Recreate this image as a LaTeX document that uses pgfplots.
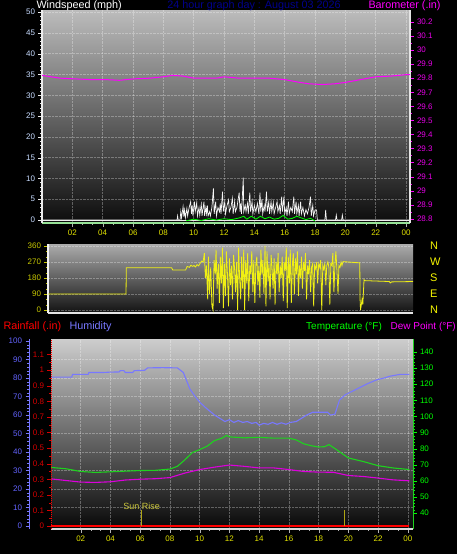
\documentclass[border=0pt]{standalone}
\usepackage{pgfplots}
\pgfplotsset{compat=1.18}
\usepackage{fontspec}
\setmainfont{Liberation Sans}
\definecolor{xyel}{RGB}{225,225,0}
\definecolor{wsblue}{RGB}{200,220,255}
\definecolor{baro}{RGB}{255,0,255}
\definecolor{barot}{RGB}{230,0,230}
\definecolor{dirY}{RGB}{200,200,0}
\definecolor{dirL}{RGB}{240,240,20}
\definecolor{nwse}{RGB}{245,245,0}
\definecolor{rain}{RGB}{255,0,0}
\definecolor{raint}{RGB}{215,0,0}
\definecolor{hum}{RGB}{120,120,255}
\definecolor{humt}{RGB}{100,100,255}
\definecolor{tempG}{RGB}{30,210,30}
\definecolor{tempT}{RGB}{0,255,0}
\definecolor{dew}{RGB}{220,0,220}
\definecolor{navyT}{RGB}{0,0,140}
\definecolor{lgreen}{RGB}{150,225,150}
\definecolor{sun}{RGB}{175,165,20}
\definecolor{suntxt}{RGB}{205,200,60}
\pgfplotsset{
  base/.style={scale only axis, anchor=north west,
    /pgf/number format/assume math mode=true,
    /pgf/number format/1000 sep={},
    tick label style={font=\fontsize{8}{9}\selectfont},
    tick align=outside,
    major tick length=3.5pt, minor tick length=1.8pt,
  },
  gridst/.style={grid style={white, opacity=0.3, densely dotted, line width=0.6pt}},
}
\newcommand{\lbl}{\fontsize{10.8}{12}\selectfont}
\newcommand{\lbls}{\fontsize{10}{12}\selectfont}
\begin{document}
\begin{tikzpicture}
\path[use as bounding box, fill=black] (0,0) rectangle (457pt,-554pt);

% ---------------- top panel: windspeed ----------------
\begin{axis}[base, at={(42pt,-10pt)}, width=368pt, height=213pt,
  xmin=0, xmax=24.26, ymin=-0.72, ymax=50.5,
  axis x line*=bottom, axis y line*=left,
  axis background/.style={shade, top color={rgb,255:red,188;green,188;blue,188}, bottom color={rgb,255:red,12;green,12;blue,12}},
  xtick={2,4,...,24}, xticklabels={02,04,06,08,10,12,14,16,18,20,22,00},
  minor x tick num=2,
  ytick={0,5,...,50}, minor y tick num=4,
  x tick label style={text=xyel},
  y tick label style={text=wsblue},
  xtick style={gray!60!white}, ytick style={white!85!gray},
  grid=major, gridst,
  x axis line style={lgreen, line width=1.6pt},
  y axis line style={white!85!gray, line width=1.2pt},
]
\addplot[white!85!gray, line width=0.9pt] coordinates {(0,0)(24.26,0)};
\addplot[white!92!gray, line width=0.7pt] coordinates {(0,0)(8.9,0)(8.94,1)(8.98,0)(9.1,0)(9.15,2)(9.2,0.5)(9.27,2.4)(9.3,3.2)(9.35,0.8)(9.4,2.4)(9.45,0.5)(9.55,2.8)(9.6,1)(9.7,3)(9.8,4.4)(9.85,1.5)(9.9,3.5)(9.95,1)(10.05,4.4)(10.1,2)(10.2,4.2)(10.25,1)(10.35,3)(10.4,1.2)(10.5,3.8)(10.55,1)(10.6,2.5)(10.68,4.4)(10.72,1)(10.8,3)(10.85,1.5)(10.9,3.5)(10.95,1)(11.05,2)(11.1,1)(11.2,3)(11.3,7.6)(11.35,1.5)(11.45,4.4)(11.5,1)(11.6,3)(11.7,2)(11.75,4)(11.8,1.5)(11.9,6.8)(11.95,2)(12.05,4.4)(12.1,1.5)(12.2,3.5)(12.3,4.8)(12.35,2)(12.45,3)(12.55,5.2)(12.6,1.5)(12.7,4.4)(12.75,2)(12.85,3)(13.0,6.6)(13.05,2)(13.1,4)(13.15,1.5)(13.27,10.2)(13.3,2)(13.4,3.5)(13.45,2)(13.55,4)(13.6,1.5)(13.7,6.6)(13.75,2)(13.85,4.4)(13.9,1.5)(14.0,3.5)(14.1,2)(14.2,4)(14.3,1.5)(14.37,6.6)(14.42,2)(14.5,5)(14.55,1.5)(14.65,3.5)(14.7,2)(14.8,6.8)(14.85,2)(14.95,4.4)(15.0,1.5)(15.1,4.4)(15.15,2)(15.25,4.2)(15.3,1.5)(15.4,3)(15.5,4.4)(15.55,2)(15.65,3.5)(15.7,1.5)(15.8,5.6)(15.85,2)(15.95,5.6)(16.0,1.5)(16.1,3)(16.15,1)(16.25,4.4)(16.3,1.5)(16.4,3)(16.5,2)(16.6,5.6)(16.65,1.5)(16.75,4.4)(16.8,1.5)(16.9,3.5)(16.95,1)(17.05,4.4)(17.1,1.5)(17.2,3)(17.3,1)(17.4,2.5)(17.5,1.5)(17.6,3)(17.7,5.6)(17.75,1)(17.85,3.5)(17.9,1)(18.0,2.4)(18.1,2.4)(18.15,0)(18.65,0)(18.7,2.4)(18.75,0)(19.35,0)(19.4,1.2)(19.45,0)(19.75,0)(19.8,1.2)(19.85,0)(24.26,0)};
\addplot[tempT, line width=0.8pt] coordinates {(9.5,-0.2)(10,0.2)(10.5,-0.1)(11,0.3)(11.5,0)(12,0.3)(12.5,0.1)(13,0.5)(13.3,0.9)(13.5,0.2)(13.8,0.9)(14.1,0.2)(14.4,0.9)(14.7,0.3)(15,0.7)(15.3,0.2)(15.6,0.4)(15.9,1.1)(16.2,0.2)(16.5,0.4)(16.8,0.9)(17.1,0.5)(17.4,0.1)(17.7,0.4)(18,-0.2)};
\end{axis}

% barometer
\begin{axis}[base, at={(42pt,-10pt)}, width=368pt, height=213pt,
  xmin=0, xmax=24.26, ymin=28.77, ymax=30.285,
  hide x axis, axis y line*=right,
  ytick={28.8,28.9,29,29.1,29.2,29.3,29.4,29.5,29.6,29.7,29.8,29.9,30,30.1,30.2},
  minor y tick num=1,
  y tick label style={text=barot},
  ytick style={baro},
  y axis line style={white!80!gray, line width=1.2pt},
]
\addplot[baro, line width=1pt] coordinates {(0,29.82)(0.6,29.81)(1.2,29.80)(2.2,29.795)(3.2,29.79)(4.2,29.79)(5.1,29.785)(6,29.795)(7.1,29.80)(8,29.81)(8.6,29.82)(9.3,29.815)(10,29.80)(10.8,29.80)(11.5,29.80)(12,29.81)(13,29.80)(14,29.80)(15,29.80)(16,29.79)(17,29.77)(17.6,29.76)(18.5,29.755)(19.3,29.76)(20,29.77)(21,29.79)(22,29.81)(23,29.815)(24,29.825)(24.26,29.825)};
\end{axis}

\node[anchor=base west, text=white, font=\lbl] at (33pt,-9pt) {Windspeed (mph)};
\node[anchor=base, text=navyT, font=\lbl] at (254pt,-9pt) {24 hour graph day : August 03 2026};
\node[anchor=base west, text=baro, font=\lbl] at (365pt,-9pt) {Barometer (.in)};

% ---------------- middle panel: wind direction ----------------
\begin{axis}[base, at={(48pt,-244pt)}, width=365pt, height=69pt,
  xmin=0, xmax=24, ymin=-17, ymax=371,
  axis x line*=bottom, axis y line*=left,
  axis background/.style={shade, top color={rgb,255:red,172;green,172;blue,172}, bottom color={rgb,255:red,18;green,18;blue,18}},
  xtick=\empty,
  ytick={0,90,180,270,360}, minor y tick num=2,
  y tick label style={text=dirY},
  ytick style={dirY},
  ymajorgrids, gridst,
  x axis line style={white!80!gray, line width=1.4pt},
  y axis line style={white!90!gray, line width=1.2pt},
]
\addplot[dirL, line width=0.8pt] coordinates {(0,90)(5.13,90)(5.15,238)(8.13,238)(8.2,225)(9.05,225)(9.15,245)(9.3,240)(9.4,252)(9.5,245)(9.6,250)(9.7,242)(9.8,255)(9.9,248)(10.0,262)(10.1,275)
(10.20,270)(10.28,320)(10.35,180)(10.42,250)(10.50,60)(10.55,300)(10.62,90)(10.70,240)(10.78,20)(10.85,0)(10.92,280)(11.00,200)(11.05,340)(11.12,120)(11.20,260)(11.27,40)(11.33,300)(11.40,150)(11.47,350)(11.53,10)(11.60,260)(11.67,80)(11.73,330)(11.80,200)(11.87,20)(11.93,290)(12.00,140)(12.07,250)(12.13,60)(12.20,310)(12.27,230)(12.33,100)(12.40,270)(12.47,0)(12.53,350)(12.60,180)(12.67,60)(12.73,300)(12.80,120)(12.87,340)(12.93,0)(13.00,280)(13.07,150)(13.13,320)(13.20,50)(13.27,250)(13.33,200)(13.40,330)(13.47,100)(13.53,280)(13.60,40)(13.67,260)(13.73,300)(13.80,140)(13.87,250)(13.93,70)(14.00,340)(14.07,200)(14.13,280)(14.20,90)(14.27,360)(14.33,20)(14.40,330)(14.47,160)(14.53,260)(14.60,60)(14.67,310)(14.73,240)(14.80,120)(14.87,290)(14.93,30)(15.00,270)(15.07,200)(15.13,320)(15.20,100)(15.27,250)(15.33,180)(15.40,300)(15.47,50)(15.53,270)(15.60,220)(15.67,350)(15.73,10)(15.80,300)(15.87,150)(15.93,340)(16.00,40)(16.07,260)(16.13,320)(16.20,90)(16.27,290)(16.33,200)(16.40,330)(16.47,80)(16.53,250)(16.60,180)(16.67,300)(16.73,120)(16.80,270)(16.87,220)(16.93,320)(17.00,60)(17.07,250)(17.13,200)(17.20,280)(17.27,100)(17.33,240)(17.40,260)(17.47,20)(17.53,250)(17.60,230)(17.67,270)(17.73,150)(17.80,260)(17.87,240)(17.93,280)(18.00,0)(18.07,250)(18.13,230)(18.20,260)(18.27,140)(18.33,250)(18.40,270)(18.47,240)(18.53,30)(18.60,260)(18.67,250)(18.73,320)(18.80,100)(18.87,260)(18.93,330)(19.00,220)(19.07,90)(19.13,250)(19.20,240)(19.27,270)(19.33,250)(19.40,272)(20.50,265)(20.52,60)(20.55,0)(20.60,28)(20.65,60)(20.70,30)(20.78,170)(20.85,165)(22.45,160)(22.5,152)(22.6,158)(24,160)};
\end{axis}
\begin{axis}[base, at={(48pt,-244pt)}, width=365pt, height=69pt,
  xmin=0, xmax=24, ymin=-17, ymax=371,
  hide x axis, axis y line*=right,
  y axis line style={draw=none},
  ytick={0,90,180,270,360}, yticklabels={N,E,S,W,N},
  ytick style={draw=none},
  y tick label style={font=\fontsize{11}{12}\selectfont, text=nwse, xshift=10pt},
]
\addplot[draw=none] coordinates {(0,0)(24,0)};
\end{axis}

% ---------------- bottom panel ----------------
\begin{axis}[base, at={(51pt,-339pt)}, width=362pt, height=190pt,
  xmin=0, xmax=24.35, ymin=-1.6, ymax=101.1,
  axis line style={draw=none},
  axis background/.style={shade, top color={rgb,255:red,205;green,205;blue,205}, bottom color={rgb,255:red,8;green,8;blue,8}},
  xtick={2,4,...,24}, ytick={10,20,...,90},
  xticklabels={}, yticklabels={},
  tick style={draw=none},
  grid=major, gridst,
]
\addplot[hum, line width=1.1pt] coordinates {(0,80.5)(1.4,80.5)(1.45,82)(2.5,82)(2.55,83)(3.5,83)(4.0,83.2)(4.6,83.3)(4.65,84)(4.9,84)(5.0,83)(5.5,83)(5.6,84)(6.3,84.2)(6.5,85.5)(7.5,85.6)(8.5,85.5)(8.9,83)(9.15,78)(9.35,74)(9.7,70)(10,67)(10.4,64)(10.7,62)(11.0,60)(11.4,58)(11.7,56.5)(12.0,57.5)(12.3,56)(12.6,57)(12.9,56)(13.2,56.5)(13.5,55.5)(13.8,56)(14.0,54.5)(14.3,55.5)(14.6,55)(14.9,56)(15.2,55)(15.5,55.8)(15.8,55)(16.1,56)(16.5,56.5)(16.8,58)(17.2,60)(17.6,61.5)(18.0,61.5)(18.6,61.5)(18.8,60)(19.1,60.5)(19.4,68)(19.8,71)(20.3,73)(20.8,75)(21.3,77)(21.9,79)(22.4,80)(22.8,81)(23.5,82)(24.1,82)};
\end{axis}

\begin{axis}[base, at={(51pt,-339pt)}, width=362pt, height=190pt,
  xmin=0, xmax=24.35, ymin=30.06, ymax=148.1,
  hide x axis, axis y line*=right,
  ytick={40,50,...,140}, minor y tick num=4,
  y tick label style={text=tempT},
  ytick style={tempT},
  y axis line style={tempG, line width=0.8pt},
]
\addplot[tempG, line width=1.1pt] coordinates {(0,68.3)(1,67.5)(2,65.8)(3,65.2)(4,65.6)(5,66)(6,66.4)(7,66.5)(8,67.3)(8.5,69)(9,73)(9.5,77.5)(10,79.4)(10.5,81.5)(11,85)(11.5,86.5)(11.8,88.2)(12,87.3)(12.5,87)(13,86.7)(14,87)(15,86.5)(16,86.5)(16.5,85.4)(17,83)(17.5,81.8)(18,81)(18.4,81.2)(18.7,82.5)(19.2,79.4)(20,74.2)(21,72)(22,69.4)(23,68)(24.1,67)};
\addplot[dew, line width=1.1pt] coordinates {(0,61.2)(1,60.2)(2,59.2)(3,59)(4,59.4)(5,60.5)(6,61)(7,61.3)(8,62)(9,64.8)(10,67)(11,68.5)(12,69.8)(13,69)(14,68)(15,68)(16,67)(17,65.8)(18,65.4)(19,65.3)(20,63.3)(21,62.7)(22,61.7)(23,60.6)(24.1,60)};
\end{axis}

\begin{axis}[base, at={(51pt,-339pt)}, width=362pt, height=190pt,
  xmin=0, xmax=24.35, ymin=-0.019, ymax=1.2,
  axis x line*=bottom, axis y line*=left,
  xtick={2,4,...,24}, xticklabels={02,04,06,08,10,12,14,16,18,20,22,00},
  minor x tick num=2,
  ytick={0,0.1,0.2,0.3,0.4,0.5,0.6,0.7,0.8,0.9,1,1.1},
  minor y tick num=1,
  x tick label style={text=xyel},
  y tick label style={text=raint},
  xtick style={gray!60!white}, ytick style={raint},
  x axis line style={white!70!gray, line width=1.4pt},
  y axis line style={rain, densely dotted, line width=1pt},
]
\addplot[rain, line width=1.6pt] coordinates {(0,0)(24.1,0)};
\addplot[sun, ycomb, line width=1pt] coordinates {(6.1,0.1)(19.74,0.1)};
\node[text=suntxt, font=\fontsize{9}{10}\selectfont] at (axis cs:6.1,0.125) {Sun Rise};
\end{axis}

% humidity scale
\begin{axis}[base, at={(29pt,-339pt)}, width=1pt, height=190pt,
  xmin=0, xmax=1, ymin=-1.6, ymax=101.1,
  hide x axis, axis y line*=left,
  ytick={0,10,...,100}, minor y tick num=4,
  y tick label style={text=humt},
  ytick style={hum},
  y axis line style={hum, line width=1pt},
]
\addplot[draw=none] coordinates {(0,0)(1,0)};
\end{axis}

\node[anchor=base west, text=rain, font=\lbl] at (0pt,-329pt) {Rainfall (.in)};
\node[anchor=base west, text=hum, font=\lbl] at (66pt,-329pt) {Humidity};
\node[anchor=base west, text=tempT, font=\lbls, inner xsep=0pt] at (306pt,-329pt) {Temperature (°F)};
\node[anchor=base east, text=baro, font=\lbls, inner xsep=0pt] at (456pt,-329pt) {Dew Point (°F)};
\end{tikzpicture}
\end{document}
